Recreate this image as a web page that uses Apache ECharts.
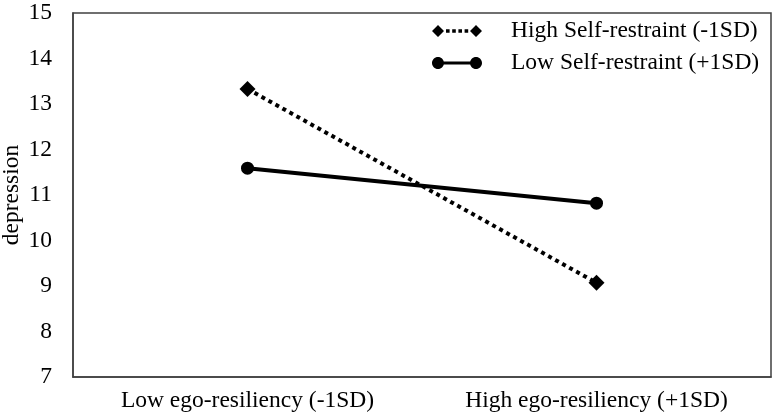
<!DOCTYPE html>
<html>
<head>
<meta charset="utf-8">
<script src="https://cdn.jsdelivr.net/npm/echarts@6/dist/echarts.min.js"></script>
<style>
html,body{margin:0;padding:0;background:#fff;}
#chart{width:774px;height:420px;}
</style>
</head>
<body>
<div id="chart"></div>
<script>
var categories = ['Low ego-resiliency (-1SD)', 'High ego-resiliency (+1SD)'];
var seriesNames = ['High Self-restraint (-1SD)', 'Low Self-restraint (+1SD)'];
var highSelfRestraint = [13.33, 9.07];
var lowSelfRestraint = [11.59, 10.82];
var yTicks = [7, 8, 9, 10, 11, 12, 13, 14, 15];

var FONT = '"Liberation Serif", "Times New Roman", serif';
var FS = 23.5;
function circ(cx, cy, r) {
  var k = 0.5523 * r;
  return 'M' + (cx - r) + ' ' + cy +
    ' C' + (cx - r) + ' ' + (cy - k) + ' ' + (cx - k) + ' ' + (cy - r) + ' ' + cx + ' ' + (cy - r) +
    ' C' + (cx + k) + ' ' + (cy - r) + ' ' + (cx + r) + ' ' + (cy - k) + ' ' + (cx + r) + ' ' + cy +
    ' C' + (cx + r) + ' ' + (cy + k) + ' ' + (cx + k) + ' ' + (cy + r) + ' ' + cx + ' ' + (cy + r) +
    ' C' + (cx - k) + ' ' + (cy + r) + ' ' + (cx - r) + ' ' + (cy + k) + ' ' + (cx - r) + ' ' + cy + ' Z';
}
var iconDotted = 'path://M0 6 L6 0 L12 6 L6 12 Z M38 6 L44 0 L50 6 L44 12 Z M14 4.2 L17.6 4.2 L17.6 7.8 L14 7.8 Z M20.2 4.2 L23.8 4.2 L23.8 7.8 L20.2 7.8 Z M26.4 4.2 L30 4.2 L30 7.8 L26.4 7.8 Z M32.6 4.2 L36.2 4.2 L36.2 7.8 L32.6 7.8 Z';
var iconSolid = 'path://' + circ(6, 6, 6) + ' ' + circ(44, 6, 6) + ' M6 4.5 L44 4.5 L44 7.5 L6 7.5 Z';

var chart = echarts.init(document.getElementById('chart'), null, {renderer: 'canvas'});
chart.setOption({
  backgroundColor: '#fff',
  animation: false,
  textStyle: {fontFamily: FONT},
  grid: {left: 73, right: 3, top: 13, bottom: 43, show: true, borderColor: '#404040', borderWidth: 1.5, backgroundColor: 'transparent', containLabel: false, outerBoundsMode: 'none'},
  legend: {
    orient: 'vertical',
    left: 432,
    top: 19,
    padding: 0,
    itemWidth: 50,
    itemHeight: 13,
    itemGap: 8,
    textStyle: {fontFamily: FONT, fontSize: FS, color: '#000', padding: [0, 0, 0, 24]},
    data: [
      {name: seriesNames[0], icon: iconDotted, itemStyle: {color: '#000'}},
      {name: seriesNames[1], icon: iconSolid, itemStyle: {color: '#000'}}
    ]
  },
  xAxis: {
    type: 'category',
    data: categories,
    boundaryGap: true,
    axisLine: {show: true, lineStyle: {color: '#404040', width: 1.5}},
    axisTick: {show: false},
    axisLabel: {fontFamily: FONT, fontSize: FS, color: '#000', margin: 12},
    splitLine: {show: false}
  },
  yAxis: {
    type: 'value',
    min: yTicks[0],
    max: yTicks[yTicks.length - 1],
    interval: 1,
    name: 'depression',
    nameLocation: 'middle',
    nameRotate: 90,
    nameGap: 49,
    nameMoveOverlap: false,
    nameTextStyle: {fontFamily: FONT, fontSize: FS, color: '#000'},
    axisLine: {show: true, lineStyle: {color: '#404040', width: 1.5}},
    axisTick: {show: false},
    axisLabel: {fontFamily: FONT, fontSize: FS, color: '#000', margin: 21},
    splitLine: {show: false}
  },
  series: [
    {
      name: seriesNames[0],
      type: 'line',
      data: highSelfRestraint,
      symbol: 'diamond',
      symbolSize: 16,
      itemStyle: {color: '#000'},
      lineStyle: {color: '#000', width: 4, type: [4, 4], cap: 'butt'}
    },
    {
      name: seriesNames[1],
      type: 'line',
      data: lowSelfRestraint,
      symbol: 'circle',
      symbolSize: 13,
      itemStyle: {color: '#000'},
      lineStyle: {color: '#000', width: 4, type: 'solid'}
    }
  ]
});
</script>
</body>
</html>
